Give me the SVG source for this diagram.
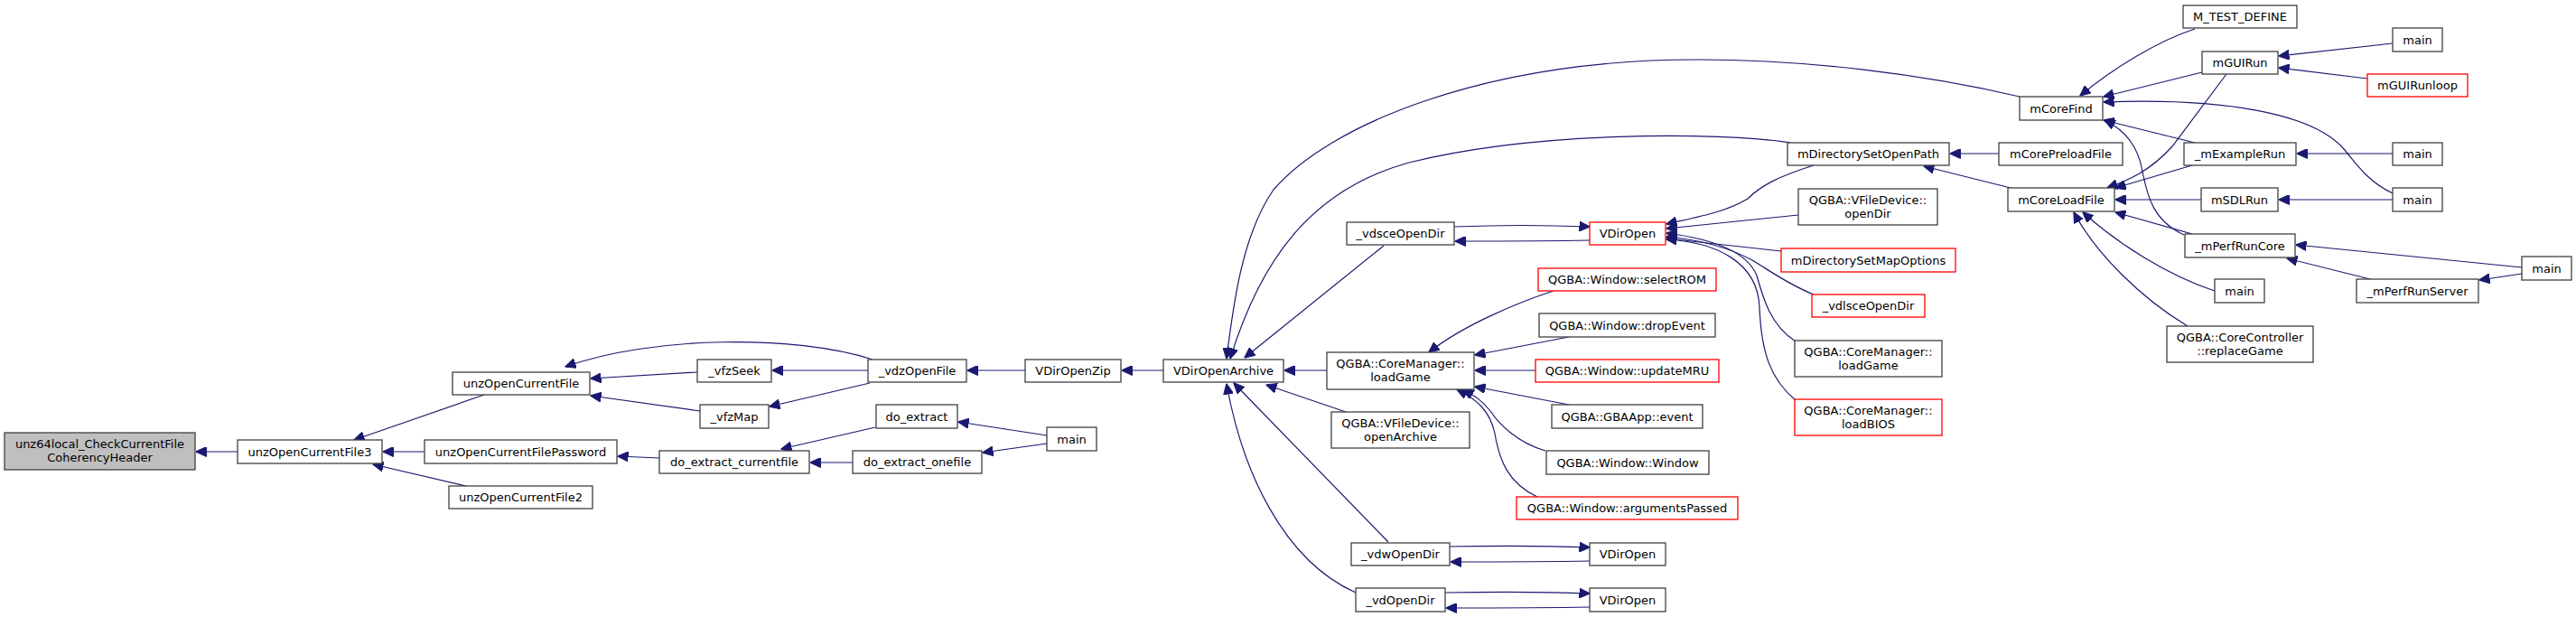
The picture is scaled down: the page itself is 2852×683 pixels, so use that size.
<svg xmlns="http://www.w3.org/2000/svg" width="2852" height="683" viewBox="0 0 2852 683">
<defs>
<marker id="ah" viewBox="0 0 12 11" refX="11.5" refY="5.5" markerWidth="12" markerHeight="11" markerUnits="userSpaceOnUse" orient="auto">
<path d="M0,0 L12,5.5 L0,11 z" fill="#191970" stroke="#191970" stroke-width="1"/>
</marker>
</defs>
<style>
rect{fill:#fff;stroke:#404040;stroke-width:1.3}
.r rect{stroke:#ff0000}
.root rect{fill:#bfbfbf}
text{font-family:"DejaVu Sans","Liberation Sans",sans-serif;font-size:13px;fill:#000;text-anchor:middle}
#edges path{fill:none;stroke:#191970;stroke-width:1.2;marker-end:url(#ah)}
</style>
<rect x="0" y="0" width="2852" height="683" style="fill:#fff;stroke:none"/>
<g id="edges">
<path d="M263,500 L217,500"/>
<path d="M536,437 L392,487"/>
<path d="M470,500 L424,500"/>
<path d="M516,538 L413,514"/>
<path d="M966,398 C880,370 720,372 626,406"/>
<path d="M772,412 L654,419"/>
<path d="M775,455 L654,438"/>
<path d="M730,507 L684,505"/>
<path d="M961,410 L855,410"/>
<path d="M963,424 L852,450"/>
<path d="M1135,410 L1071,410"/>
<path d="M1288,410 L1242,410"/>
<path d="M969,473 L865,497"/>
<path d="M944,512 L897,512"/>
<path d="M1159,482 L1061,467"/>
<path d="M1159,491 L1088,501"/>
<path d="M2236,107 C2130,82 2000,66 1880,66 C1640,66 1470,140 1410,210 C1375,260 1365,340 1358,397"/>
<path d="M1983,158 C1900,146 1700,145 1560,180 C1450,210 1395,290 1362,397"/>
<path d="M1532,272 L1378,396"/>
<path d="M1469,410 L1422,410"/>
<path d="M1490,456 L1402,426"/>
<path d="M1537,600 L1366,424"/>
<path d="M1501,656 C1420,620 1375,520 1358,425"/>
<path d="M1610,251 C1660,249 1710,249 1760,251"/>
<path d="M1760,266 C1710,267 1660,267 1611,267"/>
<path d="M1605,605 C1660,604 1710,604 1760,606"/>
<path d="M1760,621 C1710,622 1660,622 1606,622"/>
<path d="M1600,656 C1660,655 1710,655 1760,657"/>
<path d="M1760,672 C1710,673 1660,673 1601,673"/>
<path d="M2008,183 C1970,195 1950,205 1935,220 C1910,235 1880,240 1845,248"/>
<path d="M1991,238 L1845,253"/>
<path d="M1972,278 L1845,264"/>
<path d="M2008,326 C1980,315 1960,300 1940,288 C1910,272 1880,265 1845,262"/>
<path d="M1988,378 C1960,360 1952,330 1945,305 C1935,280 1900,265 1845,258"/>
<path d="M1988,443 C1960,420 1950,390 1948,340 C1946,290 1900,268 1845,265"/>
<path d="M1720,322 C1680,335 1620,360 1582,390"/>
<path d="M1737,373 L1633,393"/>
<path d="M1700,410 L1633,410"/>
<path d="M1737,448 L1633,428"/>
<path d="M1711,499 C1680,490 1660,470 1650,455 C1640,442 1630,437 1620,431"/>
<path d="M1702,550 C1670,535 1660,510 1655,480 C1650,455 1635,442 1613,431"/>
<path d="M2213,170 L2159,170"/>
<path d="M2226,208 L2130,184"/>
<path d="M2430,32 C2390,45 2340,75 2303,106"/>
<path d="M2438,80 L2329,107"/>
<path d="M2649,214 C2620,200 2608,180 2595,165 C2560,125 2460,108 2329,113"/>
<path d="M2430,158 L2329,133"/>
<path d="M2418,260 C2385,245 2378,220 2372,190 C2368,165 2355,145 2330,133"/>
<path d="M2649,48 L2523,62"/>
<path d="M2621,87 L2523,75"/>
<path d="M2465,82 L2405,162 C2380,190 2355,200 2333,208"/>
<path d="M2427,183 L2342,208"/>
<path d="M2437,221 L2342,221"/>
<path d="M2427,259 L2342,235"/>
<path d="M2452,322 C2400,305 2345,270 2306,235"/>
<path d="M2422,361 C2370,330 2320,280 2296,235"/>
<path d="M2649,170 L2543,170"/>
<path d="M2649,221 L2523,221"/>
<path d="M2792,296 L2542,271"/>
<path d="M2624,309 L2532,286"/>
<path d="M2792,303 L2745,310"/>
</g>
<g id="n0" class="root"><rect x="5" y="479" width="211" height="41"/><text x="110.5" y="496">unz64local_CheckCurrentFile</text><text x="110.5" y="511">CoherencyHeader</text></g>
<g id="n1"><rect x="263" y="487" width="160" height="26"/><text x="343" y="504.5">unzOpenCurrentFile3</text></g>
<g id="n2"><rect x="501" y="412" width="152" height="25"/><text x="577" y="429">unzOpenCurrentFile</text></g>
<g id="n3"><rect x="470" y="487" width="213" height="26"/><text x="576.5" y="504.5">unzOpenCurrentFilePassword</text></g>
<g id="n4"><rect x="497" y="538" width="159" height="25"/><text x="576.5" y="555">unzOpenCurrentFile2</text></g>
<g id="n5"><rect x="772" y="398" width="82" height="25"/><text x="813" y="415">_vfzSeek</text></g>
<g id="n6"><rect x="775" y="448" width="76" height="26"/><text x="813" y="465.5">_vfzMap</text></g>
<g id="n7"><rect x="730" y="499" width="166" height="25"/><text x="813" y="516">do_extract_currentfile</text></g>
<g id="n8"><rect x="961" y="398" width="109" height="25"/><text x="1015.5" y="415">_vdzOpenFile</text></g>
<g id="n9"><rect x="970" y="448" width="90" height="26"/><text x="1015" y="465.5">do_extract</text></g>
<g id="n10"><rect x="944" y="499" width="143" height="25"/><text x="1015.5" y="516">do_extract_onefile</text></g>
<g id="n11"><rect x="1135" y="398" width="106" height="25"/><text x="1188" y="415">VDirOpenZip</text></g>
<g id="n12"><rect x="1159" y="473" width="55" height="26"/><text x="1186.5" y="490.5">main</text></g>
<g id="n13"><rect x="1288" y="398" width="133" height="25"/><text x="1354.5" y="415">VDirOpenArchive</text></g>
<g id="n14"><rect x="1491" y="246" width="119" height="25"/><text x="1550.5" y="263">_vdsceOpenDir</text></g>
<g id="n15"><rect x="1469" y="390" width="163" height="41"/><text x="1550.5" y="407">QGBA::CoreManager::</text><text x="1550.5" y="422">loadGame</text></g>
<g id="n16"><rect x="1474" y="456" width="153" height="40"/><text x="1550.5" y="472.5">QGBA::VFileDevice::</text><text x="1550.5" y="487.5">openArchive</text></g>
<g id="n17"><rect x="1496" y="601" width="109" height="25"/><text x="1550.5" y="618">_vdwOpenDir</text></g>
<g id="n18"><rect x="1501" y="651" width="99" height="26"/><text x="1550.5" y="668.5">_vdOpenDir</text></g>
<g id="n19" class="r"><rect x="1760" y="246" width="84" height="25"/><text x="1802" y="263">VDirOpen</text></g>
<g id="n20" class="r"><rect x="1703" y="297" width="197" height="25"/><text x="1801.5" y="314">QGBA::Window::selectROM</text></g>
<g id="n21"><rect x="1704" y="347" width="195" height="26"/><text x="1801.5" y="364.5">QGBA::Window::dropEvent</text></g>
<g id="n22" class="r"><rect x="1700" y="398" width="203" height="25"/><text x="1801.5" y="415">QGBA::Window::updateMRU</text></g>
<g id="n23"><rect x="1718" y="448" width="167" height="26"/><text x="1801.5" y="465.5">QGBA::GBAApp::event</text></g>
<g id="n24"><rect x="1712" y="499" width="180" height="26"/><text x="1802" y="516.5">QGBA::Window::Window</text></g>
<g id="n25" class="r"><rect x="1679" y="550" width="245" height="25"/><text x="1801.5" y="567">QGBA::Window::argumentsPassed</text></g>
<g id="n26"><rect x="1760" y="601" width="84" height="25"/><text x="1802" y="618">VDirOpen</text></g>
<g id="n27"><rect x="1760" y="651" width="84" height="26"/><text x="1802" y="668.5">VDirOpen</text></g>
<g id="n28"><rect x="1979" y="158" width="179" height="25"/><text x="2068.5" y="175">mDirectorySetOpenPath</text></g>
<g id="n29"><rect x="1991" y="209" width="154" height="40"/><text x="2068" y="225.5">QGBA::VFileDevice::</text><text x="2068" y="240.5">openDir</text></g>
<g id="n30" class="r"><rect x="1972" y="275" width="193" height="26"/><text x="2068.5" y="292.5">mDirectorySetMapOptions</text></g>
<g id="n31" class="r"><rect x="2006" y="326" width="125" height="25"/><text x="2068.5" y="343">_vdlsceOpenDir</text></g>
<g id="n32"><rect x="1987" y="377" width="163" height="40"/><text x="2068.5" y="393.5">QGBA::CoreManager::</text><text x="2068.5" y="408.5">loadGame</text></g>
<g id="n33" class="r"><rect x="1987" y="442" width="163" height="40"/><text x="2068.5" y="458.5">QGBA::CoreManager::</text><text x="2068.5" y="473.5">loadBIOS</text></g>
<g id="n34"><rect x="2236" y="107" width="92" height="26"/><text x="2282" y="124.5">mCoreFind</text></g>
<g id="n35"><rect x="2213" y="158" width="137" height="25"/><text x="2281.5" y="175">mCorePreloadFile</text></g>
<g id="n36"><rect x="2223" y="208" width="118" height="26"/><text x="2282" y="225.5">mCoreLoadFile</text></g>
<g id="n37"><rect x="2417" y="6" width="126" height="25"/><text x="2480" y="23">M_TEST_DEFINE</text></g>
<g id="n38"><rect x="2438" y="57" width="84" height="25"/><text x="2480" y="74">mGUIRun</text></g>
<g id="n39"><rect x="2418" y="158" width="124" height="25"/><text x="2480" y="175">_mExampleRun</text></g>
<g id="n40"><rect x="2437" y="208" width="85" height="26"/><text x="2479.5" y="225.5">mSDLRun</text></g>
<g id="n41"><rect x="2419" y="259" width="122" height="26"/><text x="2480" y="276.5">_mPerfRunCore</text></g>
<g id="n42"><rect x="2452" y="309" width="55" height="26"/><text x="2479.5" y="326.5">main</text></g>
<g id="n43"><rect x="2399" y="361" width="162" height="40"/><text x="2480" y="377.5">QGBA::CoreController</text><text x="2480" y="392.5">::replaceGame</text></g>
<g id="n44"><rect x="2649" y="31" width="55" height="26"/><text x="2676.5" y="48.5">main</text></g>
<g id="n45" class="r"><rect x="2621" y="82" width="111" height="25"/><text x="2676.5" y="99">mGUIRunloop</text></g>
<g id="n46"><rect x="2649" y="158" width="55" height="25"/><text x="2676.5" y="175">main</text></g>
<g id="n47"><rect x="2649" y="208" width="55" height="26"/><text x="2676.5" y="225.5">main</text></g>
<g id="n48"><rect x="2609" y="309" width="135" height="26"/><text x="2676.5" y="326.5">_mPerfRunServer</text></g>
<g id="n49"><rect x="2792" y="284" width="55" height="26"/><text x="2819.5" y="301.5">main</text></g>
</svg>
